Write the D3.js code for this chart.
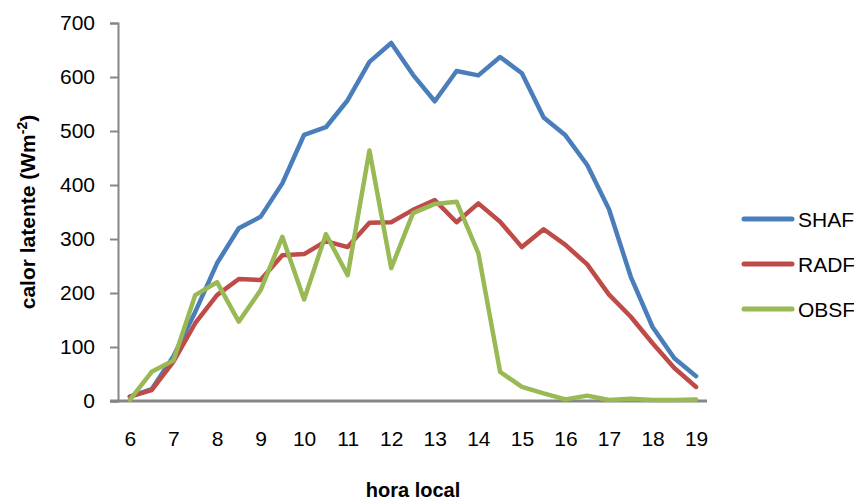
<!DOCTYPE html>
<html>
<head>
<meta charset="utf-8">
<script src="https://cdn.jsdelivr.net/npm/d3@7"></script>
<style>
  html, body { margin: 0; padding: 0; background: #fff; }
  svg { display: block; }
  text { font-family: "Liberation Sans", Arial, sans-serif; fill: #000; }
</style>
</head>
<body>
<svg id="chart" width="854" height="501"></svg>
<script>
const hours = [6, 6.5, 7, 7.5, 8, 8.5, 9, 9.5, 10, 10.5, 11, 11.5, 12, 12.5, 13, 13.5, 14, 14.5, 15, 15.5, 16, 16.5, 17, 17.5, 18, 18.5, 19];
const SHAF = [8, 22, 83, 165, 255, 320, 341, 403, 493, 507, 557, 628, 663, 604, 555, 611, 603, 637, 607, 525, 492, 437, 355, 230, 137, 79, 46];
const RADF = [8, 20, 73, 144, 196, 226, 224, 270, 272, 296, 285, 330, 331, 354, 372, 331, 366, 332, 285, 318, 289, 253, 197, 156, 107, 61, 26];
const OBSF = [2, 54, 75, 196, 220, 147, 205, 304, 188, 309, 233, 464, 246, 348, 365, 369, 274, 54, 26, 14, 3, 10, 2, 4, 2, 2, 3];
const xTicks = [6, 7, 8, 9, 10, 11, 12, 13, 14, 15, 16, 17, 18, 19];
const yTicks = [0, 100, 200, 300, 400, 500, 600, 700];
const seriesNames = ["SHAF", "RADF", "OBSF"];
const seriesColors = ["#4A7EBB", "#BE4B48", "#98B954"];

const series = [SHAF, RADF, OBSF].map((vals, i) => ({
  name: seriesNames[i], color: seriesColors[i],
  points: vals.map((v, j) => ({ h: hours[j], v }))
}));

const svg = d3.select("#chart");
const x = d3.scaleLinear().domain([5.75, 19.25]).range([119, 707]);
const y = d3.scaleLinear().domain([0, 700]).range([401, 23]);

// Y axis
const yAxis = svg.append("g").attr("transform", "translate(118,0)")
  .call(d3.axisLeft(y).tickValues(yTicks).tickSize(8).tickPadding(15).tickFormat(d3.format("d")));
yAxis.select(".domain").attr("stroke", "#868686").attr("stroke-width", 2);
yAxis.selectAll(".tick line").attr("stroke", "#868686").attr("stroke-width", 2);
yAxis.selectAll(".tick text").style("font-size", "21px").attr("fill", "#000");

// X axis
const xAxis = svg.append("g").attr("transform", "translate(0,401)")
  .call(d3.axisBottom(x).tickValues(xTicks).tickSize(0).tickPadding(30).tickFormat(d3.format("d")));
xAxis.select(".domain").remove();
xAxis.selectAll(".tick text").style("font-size", "21px").attr("fill", "#000");
svg.append("line").attr("x1", 110).attr("x2", 707).attr("y1", 401).attr("y2", 401)
  .attr("stroke", "#868686").attr("stroke-width", 3);

// Lines
const line = d3.line().x(d => x(d.h)).y(d => y(d.v));
svg.append("g").selectAll("path").data(series).join("path")
  .attr("d", d => line(d.points))
  .attr("fill", "none")
  .attr("stroke", d => d.color)
  .attr("stroke-width", 4.5)
  .attr("stroke-linejoin", "round")
  .attr("stroke-linecap", "round");

// Axis titles
svg.append("text").attr("x", 413).attr("y", 497).attr("text-anchor", "middle")
  .style("font-size", "20px").style("font-weight", "bold").text("hora local");
const yt = svg.append("text").attr("transform", "translate(35,212) rotate(-90)")
  .attr("text-anchor", "middle").style("font-size", "21px").style("font-weight", "bold");
yt.append("tspan").text("calor latente (Wm");
yt.append("tspan").attr("dy", -8).style("font-size", "14px").text("-2");
yt.append("tspan").attr("dy", 8).text(")");

// Legend
const legY = [219, 264, 309];
const leg = svg.append("g").selectAll("g").data(series).join("g")
  .attr("transform", (d, i) => `translate(0,${legY[i]})`);
leg.append("line").attr("x1", 744).attr("x2", 792).attr("y1", 0).attr("y2", 0)
  .attr("stroke", d => d.color).attr("stroke-width", 5).attr("stroke-linecap", "round");
leg.append("text").attr("x", 798).attr("y", 0).attr("dy", "0.36em")
  .style("font-size", "21px").text(d => d.name);
</script>
</body>
</html>
